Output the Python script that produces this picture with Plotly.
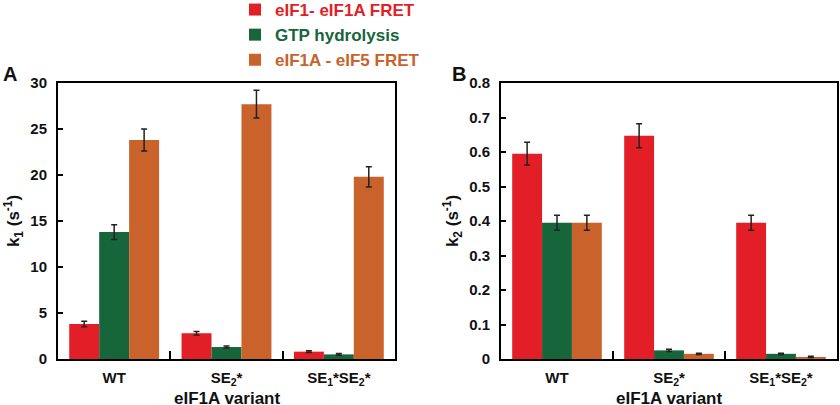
import plotly.graph_objects as go

W, H = 840, 405
ML, MR, MT, MB = 58, 3, 83, 46
PW, PH = W - ML - MR, H - MT - MB

def px(x):
    return (x - ML) / PW

def py(y):
    return (H - MB - y) / PH

categories = ["WT", "SE<sub>2</sub>*", "SE<sub>1</sub>*SE<sub>2</sub>*"]
series_names = ["eIF1- eIF1A FRET", "GTP hydrolysis", "eIF1A - eIF5 FRET"]
colors = ["#E21F26", "#17653A", "#C9622B"]
x_title = "eIF1A variant"

# Panel A: k1 (s^-1)
k1_fret_1_1a = [3.8, 2.8, 0.8]
k1_fret_1_1a_err = [0.3, 0.2, 0.1]
k1_gtp = [13.8, 1.3, 0.5]
k1_gtp_err = [0.8, 0.1, 0.1]
k1_fret_1a_5 = [23.8, 27.7, 19.8]
k1_fret_1a_5_err = [1.2, 1.5, 1.1]

# Panel B: k2 (s^-1)
k2_fret_1_1a = [0.595, 0.647, 0.395]
k2_fret_1_1a_err = [0.033, 0.035, 0.022]
k2_gtp = [0.395, 0.025, 0.015]
k2_gtp_err = [0.022, 0.003, 0.002]
k2_fret_1a_5 = [0.395, 0.015, 0.006]
k2_fret_1a_5_err = [0.022, 0.002, 0.002]

k1_vals = [k1_fret_1_1a, k1_gtp, k1_fret_1a_5]
k1_errs = [k1_fret_1_1a_err, k1_gtp_err, k1_fret_1a_5_err]
k2_vals = [k2_fret_1_1a, k2_gtp, k2_fret_1a_5]
k2_errs = [k2_fret_1_1a_err, k2_gtp_err, k2_fret_1a_5_err]

FONT = "Liberation Sans, Arial, sans-serif"

fig = go.Figure()
for i in range(3):
    fig.add_trace(go.Bar(
        x=categories, y=k1_vals[i], name=f"<span style='color:{colors[i]}'>{series_names[i]}</span>",
        marker=dict(color=colors[i], line=dict(width=0)),
        error_y=dict(type="data", array=k1_errs[i], color="#222", thickness=1.5, width=3),
        xaxis="x", yaxis="y", legendgroup=str(i), showlegend=True,
    ))
for i in range(3):
    fig.add_trace(go.Bar(
        x=categories, y=k2_vals[i], name=series_names[i],
        marker=dict(color=colors[i], line=dict(width=0)),
        error_y=dict(type="data", array=k2_errs[i], color="#222", thickness=1.5, width=3),
        xaxis="x2", yaxis="y2", legendgroup=str(i), showlegend=False,
    ))

axis_common = dict(
    showline=True, linecolor="black", linewidth=2, mirror=True,
    showgrid=False, zeroline=False, automargin=False,
    tickfont=dict(family=FONT, size=15, color="#111", weight="bold"),
)
xaxis_common = dict(
    axis_common, type="category", ticks="inside", tickson="boundaries",
    ticklen=8, tickwidth=2, tickcolor="black", ticklabelstandoff=4,
    tickfont=dict(family=FONT, size=15, color="#111", weight="bold"),
)
title_font = dict(family=FONT, size=17, color="#111", weight="bold")

fig.update_layout(
    width=W, height=H,
    margin=dict(l=ML, r=MR, t=MT, b=MB, autoexpand=False),
    paper_bgcolor="white", plot_bgcolor="white",
    barmode="group", bargap=0.2, bargroupgap=0,
    showlegend=True,
    legend=dict(x=px(235), y=py(-8), xanchor="left", yanchor="top",
                font=dict(family=FONT, size=17, weight="bold"),
                bgcolor="rgba(0,0,0,0)", tracegroupgap=0, itemclick=False),
    xaxis=dict(xaxis_common, domain=[0, px(395)], anchor="y"),
    xaxis2=dict(xaxis_common, domain=[px(501), px(837)], anchor="y2"),
    yaxis=dict(axis_common, domain=[0, 1], anchor="x", range=[0, 30], tickvals=[0, 5, 10, 15, 20, 25, 30],
               ticks="inside", ticklen=5, tickwidth=2, tickcolor="black", ticklabelstandoff=6,
               title=dict(text="k<sub>1</sub> (s<sup>-1</sup>)", font=title_font, standoff=6)),
    yaxis2=dict(axis_common, domain=[0, 1], anchor="x2", range=[0, 0.8], tickvals=[0, 0.1, 0.2, 0.3, 0.4, 0.5, 0.6, 0.7, 0.8],
                ticks="inside", ticklen=5, tickwidth=2, tickcolor="black", ticklabelstandoff=6,
                title=dict(text="k<sub>2</sub> (s<sup>-1</sup>)", font=title_font, standoff=6)),
    annotations=[
        dict(text=x_title, x=px((58 + 395) / 2), y=py(398), xref="paper", yref="paper", showarrow=False,
             font=title_font, xanchor="center", yanchor="middle"),
        dict(text=x_title, x=px((501 + 837) / 2), y=py(398), xref="paper", yref="paper", showarrow=False,
             font=title_font, xanchor="center", yanchor="middle"),
        dict(text="A", x=px(10), y=py(74), xref="paper", yref="paper", showarrow=False,
             font=dict(family=FONT, size=20, color="#111", weight="bold"), xanchor="center", yanchor="middle"),
        dict(text="B", x=px(459), y=py(74), xref="paper", yref="paper", showarrow=False,
             font=dict(family=FONT, size=20, color="#111", weight="bold"), xanchor="center", yanchor="middle"),
    ],
)

fig.write_html("out.html", config={"displayModeBar": False},
               post_script="document.body.style.margin='0';document.body.style.overflow='hidden';")
